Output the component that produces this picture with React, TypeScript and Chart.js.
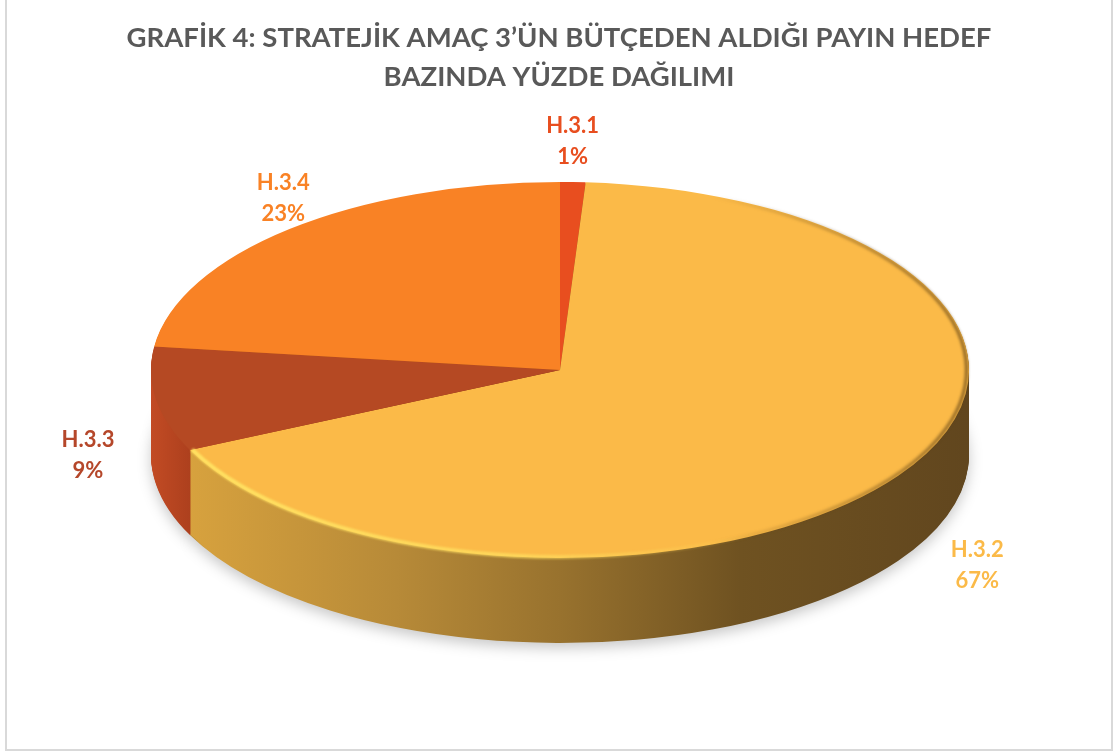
import React, { useEffect, useRef } from 'react';
import { Chart, registerables } from 'chart.js';

Chart.register(...registerables);

// ---- data ----
const categories = ['H.3.1', 'H.3.2', 'H.3.3', 'H.3.4'];
const shares = [1, 67, 9, 23];
const titleLines = [
  'GRAFİK 4: STRATEJİK AMAÇ 3’ÜN BÜTÇEDEN ALDIĞI PAYIN HEDEF',
  'BAZINDA YÜZDE DAĞILIMI',
];

// ---- styles ----
const sliceColors = ['#E84E1F', '#FBBA48', '#B54923', '#F98225'];
const labelColors = ['#E84E1F', '#FBBA48', '#B5472A', '#F98225'];
const sideStops: Array<Array<[number, string]>> = [
  [[0, '#B83A14'], [1, '#6E2208']],
  [[0, '#DDA63F'], [0.3, '#B78A38'], [0.5, '#98722E'], [0.72, '#6F5221'], [1, '#61461E']],
  [[0, '#C24B24'], [0.06, '#A83D1C'], [0.2, '#8E3216'], [1, '#5A2010']],
  [[0, '#C8661C'], [1, '#7A3E10']],
];

const GEOM = { cx: 553, cy: 373, rx: 409, ry: 188, depth: 85 };
const LABEL_W = 60;
const LABEL_H = 64;
const PERSPECTIVE = 0.15;

function ellipsePath(ctx: CanvasRenderingContext2D, ox: number, oy: number, r: number, a0: number, a1: number) {
  ctx.save();
  ctx.translate(GEOM.cx, GEOM.cy);
  ctx.scale(GEOM.rx / r, GEOM.ry / r);
  ctx.translate(-ox, -oy);
  ctx.beginPath();
  ctx.arc(ox, oy, r * 0.994, a0, a1);
  ctx.restore();
}

const pie3d = {
  id: 'pie3d',
  beforeDatasetsDraw(chart: any) {
    const meta = chart.getDatasetMeta(0);
    const arcs = meta.data as any[];
    const ctx = chart.ctx as CanvasRenderingContext2D;
    ctx.save();
    if (!arcs.length) return;
    const a0 = arcs[0];
    const r = a0.outerRadius;
    const ox = a0.x;
    const oy = a0.y;
    const sx = GEOM.rx / r;
    const sy = GEOM.ry / r;
    ctx.translate(GEOM.cx, GEOM.cy);
    ctx.scale(sx, sy);
    ctx.translate(-ox, -oy);
    const grads = arcs.map((_, i) => {
      const g = ctx.createLinearGradient(ox - r, 0, ox + r, 0);
      sideStops[i].forEach(([p, c]) => g.addColorStop(p, c));
      return g;
    });
    for (let d = GEOM.depth; d >= 1; d--) {
      ctx.save();
      ctx.translate(0, d / sy);
      if (d === GEOM.depth) {
        ctx.shadowColor = 'rgba(0,0,0,0.22)';
        ctx.shadowBlur = 14;
        ctx.shadowOffsetY = 5;
      }
      arcs.forEach((arc, i) => {
        const fake = Object.create(arc);
        fake.options = { ...arc.options, backgroundColor: grads[i], borderWidth: 0 };
        arc.constructor.prototype.draw.call(fake, ctx);
      });
      ctx.restore();
    }
  },
  afterDatasetsDraw(chart: any) {
    const ctx = chart.ctx as CanvasRenderingContext2D;
    ctx.restore();
    const meta = chart.getDatasetMeta(0);
    const arcs = meta.data as any[];
    if (!arcs.length) return;
    const a0 = arcs[0];
    const r = a0.outerRadius;
    const ox = a0.x;
    const oy = a0.y;
    const big = arcs[1];

    // soft dark rim on the right of the top face
    ctx.save();
    ellipsePath(ctx, ox, oy, r, Math.max(big.startAngle, -1.25), 1.3);
    const sg = ctx.createLinearGradient(GEOM.cx + 150, 0, GEOM.cx + GEOM.rx, 0);
    sg.addColorStop(0, 'rgba(95,65,20,0)');
    sg.addColorStop(1, 'rgba(95,65,20,0.75)');
    ctx.strokeStyle = sg;
    ctx.lineWidth = 3;
    ctx.filter = 'blur(1.5px)';
    ctx.stroke();
    ctx.restore();

    // bright bevel highlight along the front-left edge
    ctx.save();
    ellipsePath(ctx, ox, oy, r, 0.9, big.endAngle);
    const hg = ctx.createLinearGradient(GEOM.cx - GEOM.rx, 0, GEOM.cx + 200, 0);
    hg.addColorStop(0, 'rgba(255,228,100,1)');
    hg.addColorStop(0.6, 'rgba(255,222,95,0.8)');
    hg.addColorStop(1, 'rgba(255,215,90,0)');
    ctx.strokeStyle = hg;
    ctx.lineWidth = 4;
    ctx.filter = 'blur(1px)';
    ctx.stroke();
    ctx.restore();

    // data labels
    const total = shares.reduce((a, b) => a + b, 0);
    ctx.save();
    ctx.font = 'bold 22px Lato';
    ctx.textAlign = 'center';
    ctx.textBaseline = 'middle';
    arcs.forEach((arc, i) => {
      const mid = (arc.startAngle + arc.endAngle) / 2;
      const c = Math.cos(mid);
      const s = Math.sin(mid);
      const bx = GEOM.cx + c * (GEOM.rx * 1.07 * (1 + PERSPECTIVE * s) + LABEL_W / 2);
      const by =
        GEOM.cy + s * (GEOM.ry * 1.05 + LABEL_H / 2) + (s > 0 ? GEOM.depth * (0.5 + 0.5 * s) : 0);
      ctx.fillStyle = labelColors[i];
      ctx.fillText(categories[i], bx, by - 15);
      ctx.fillText(Math.round((shares[i] / total) * 100) + '%', bx, by + 16);
    });
    ctx.restore();
  },
};

export default function App() {
  const canvasRef = useRef<HTMLCanvasElement | null>(null);

  useEffect(() => {
    const canvas = canvasRef.current;
    if (!canvas) return;
    const chart = new Chart(canvas, {
      type: 'pie',
      data: {
        labels: categories,
        datasets: [
          {
            data: shares,
            backgroundColor: sliceColors,
            borderWidth: 0,
            clip: false as any,
          } as any,
        ],
      },
      options: {
        responsive: false,
        animation: false,
        devicePixelRatio: 1,
        layout: { padding: 0 },
        plugins: {
          legend: { display: false },
          tooltip: { enabled: false },
          title: {
            display: true,
            text: titleLines,
            color: '#595959',
            font: { family: 'Lato', size: 27.5, weight: 'bold', lineHeight: 1.42 },
            padding: { top: 22, bottom: 10 },
          },
        },
      },
      plugins: [pie3d],
    });
    return () => chart.destroy();
  }, []);

  return (
    <div
      style={{
        position: 'absolute',
        left: 5,
        top: -5,
        width: 1108,
        height: 756,
        border: '2px solid #D9D9D9',
        boxSizing: 'border-box',
        background: '#FFFFFF',
      }}
    >
      <canvas ref={canvasRef} width={1104} height={752} style={{ display: 'block' }} />
    </div>
  );
}
